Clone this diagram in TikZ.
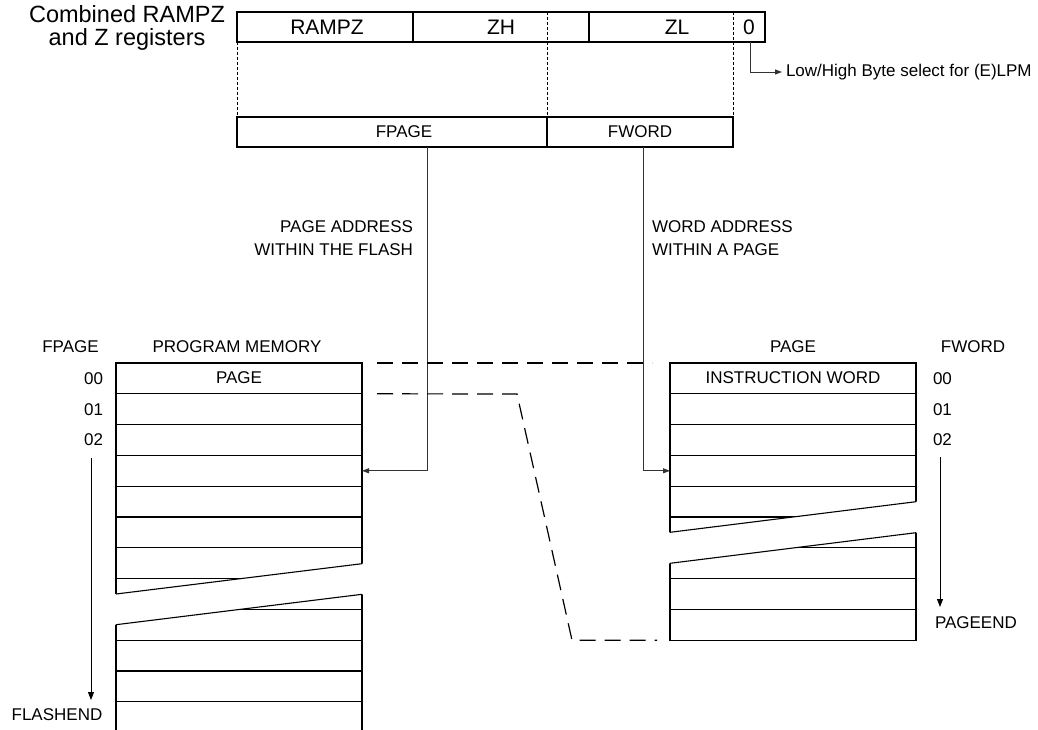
\documentclass[tikz,border=0pt]{standalone}
\usepackage{fontspec}
\setmainfont{Liberation Sans}
\usetikzlibrary{arrows.meta,calc}
\newcommand\fsm{\fontsize{17}{23}\selectfont}
\newcommand\fmd{\fontsize{21}{25}\selectfont}
\newcommand\fbg{\fontsize{23.5}{23}\selectfont}
\begin{document}
\begin{tikzpicture}[x=1pt,y=-1pt,
  box/.style={draw, line width=1.3pt, inner sep=0, outer sep=0},
  membox/.style={box, minimum width=246pt, minimum height=30.8pt},
  txt/.style={inner sep=0, outer sep=0, font=\fsm},
  bigtxt/.style={inner sep=0, outer sep=0, font=\fmd},
  conn/.style={draw=black!80, line width=0.9pt},
  tipend/.style={-{Triangle[length=7pt,width=5pt]}},
  fine/.style={line width=0.8pt, dash pattern=on 3pt off 2pt},
  bigdash/.style={line width=1.2pt, dash pattern=on 16pt off 9pt},
  slant/.style={line width=1.1pt},
]
\clip (0,0) rectangle (1038,730);
\fill[white] (0,0) rectangle (1038,730);

% ---- combined register ----
\node[inner sep=0, outer sep=0, font=\fbg, align=center, anchor=north] (title) at (127,5.5) {Combined RAMPZ\\and Z registers};
\node[box, minimum width=528pt, minimum height=30pt] (reg) at (501,27) {};
\draw[line width=1.3pt] (413,12) -- (413,42);
\draw[line width=1.3pt] (589,12) -- (589,42);
\node[bigtxt] (trampz) at (327,27) {RAMPZ};
\node[bigtxt] (tzh) at (501,27) {ZH};
\node[bigtxt] (tzl) at (677,27) {ZL};
\node[bigtxt] (tz0) at (749,27) {0};

% ---- FPAGE / FWORD ----
\node[box, minimum width=310pt, minimum height=30pt] (fp) at (392,132) {};
\node[box, minimum width=186pt, minimum height=30pt] (fw) at (640,132) {};
\node[txt] (tfp) at (404,132) {FPAGE};
\node[txt] (tfw) at (640,132) {FWORD};

\draw[fine] (reg.south west) -- (fp.north west);
\draw[fine] (547,12) -- (fp.north east);
\draw[fine] (733,12) -- (fw.north east);

% low/high select
\coordinate (lsb) at (750,42);
\node[txt, anchor=west] (lh) at (786,72) {Low/High Byte select for (E)LPM};
\draw[conn, tipend] (lsb) |- ([xshift=-4pt]lh.west);

% ---- labels ----
\node[txt, anchor=east, align=right] (lpa) at (413,238.5) {PAGE ADDRESS\\WITHIN THE FLASH};
\node[txt, anchor=west, align=left] (lwa) at (652,238.5) {WORD ADDRESS\\WITHIN A PAGE};

% ---- program memory ----
\node[txt] (hfp) at (70.5,347) {FPAGE};
\node[txt] (hpm) at (237,347) {PROGRAM MEMORY};
\foreach \i in {0,...,11} {
  \node[membox] (pm\i) at (239,{378.4+30.8*\i}) {};
}
\node[txt] (tpage) at (239,378) {PAGE};
\node[txt, anchor=east] (n00) at (103,378.4) {00};
\node[txt, anchor=east] (n01) at (103,409.2) {01};
\node[txt, anchor=east] (n02) at (103,440) {02};
\node[txt] (flashend) at (57,715) {FLASHEND};
\coordinate (fas) at (91,458);
\coordinate (fae) at (91,700);
\draw[line width=0.9pt, -{Triangle[length=8pt,width=6pt]}] (fas) -- (fae);

% break band left
\fill[white] (114,594.2) -- (364,563.5) -- (364,594.1) -- (114,624.9) -- cycle;
\draw[slant] (116,594) -- (362,563.7);
\draw[slant] (116,624.7) -- (362,594.3);

% ---- page ----
\node[txt] (hpg) at (793,347) {PAGE};
\node[txt] (hfw) at (973,347) {FWORD};
\foreach \i in {0,...,8} {
  \node[membox] (pg\i) at (793,{378.4+30.8*\i}) {};
}
\node[txt] (tiw) at (793,378) {INSTRUCTION WORD};
\node[txt, anchor=west] (m00) at (933,378.4) {00};
\node[txt, anchor=west] (m01) at (933,409.2) {01};
\node[txt, anchor=west] (m02) at (933,440) {02};
\node[txt, anchor=west] (pageend) at (935,623) {PAGEEND};
\coordinate (pas) at (940,457);
\coordinate (pae) at (940,607);
\draw[line width=0.9pt, -{Triangle[length=8pt,width=6pt]}] (pas) -- (pae);

% break band right
\fill[white] (668,532.6) -- (918,501.5) -- (918,532.5) -- (668,563.6) -- cycle;
\draw[slant] (670,532.3) -- (916,501.7);
\draw[slant] (670,563.3) -- (916,532.7);

% ---- connectors ----
\coordinate (fpo) at (427,147);
\draw[conn, tipend] (fpo) |- (pm3.east);
\coordinate (fwo) at (643,147);
\draw[conn, tipend] (fwo) |- (pg3.west);

% ---- dashed page mapping ----
\draw[bigdash] ([xshift=15pt]pm0.north east) -- ([xshift=-18pt]pg0.north west);
\coordinate (bend1) at (517,394);
\coordinate (bend2) at (572,640.2);
\draw[bigdash] ([xshift=15pt]pm0.south east) -- (bend1) -- (bend2) -- ([xshift=-13pt]pg8.south west);
\end{tikzpicture}
\end{document}
